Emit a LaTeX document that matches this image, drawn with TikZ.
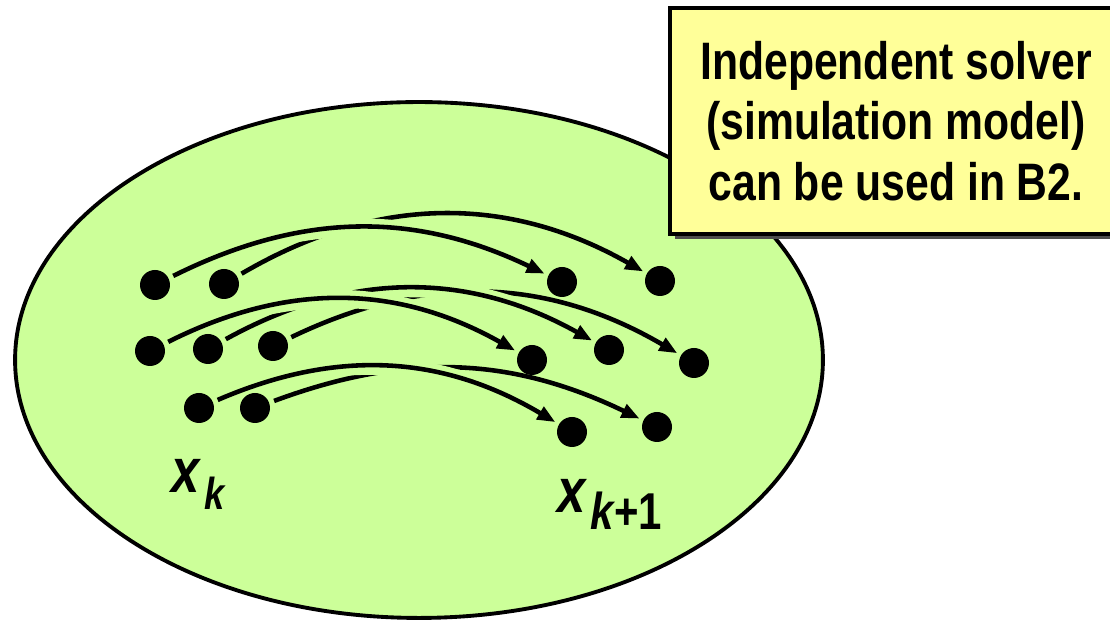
\documentclass[tikz,border=0pt]{standalone}
\usepackage{fontspec}
\newfontfamily\narrowsans[FakeStretch=0.81]{Liberation Sans}
\usetikzlibrary{arrows.meta,shadows}
\definecolor{ellgreen}{HTML}{CCFF99}
\definecolor{noteyellow}{HTML}{FFFF99}
\definecolor{shadowgray}{HTML}{4D4D4D}
\pgfdeclarelayer{back}
\pgfsetlayers{back,main}

\begin{document}
\begin{tikzpicture}[x=0.02cm, y=0.02cm,
  dot/.style={circle, fill=black, inner sep=0pt, minimum size=0.6cm},
  flow/.style={line width=2.6pt, -{Triangle[length=0.36cm, width=0.28cm]},
    shorten <=0.1cm, shorten >=0.08cm,
    preaction={draw=ellgreen, line width=0.36cm, -}}]

\useasboundingbox (0,0) rectangle (1110,621);

% x_k points
\node[dot] (p1) at (155,336) {};
\node[dot] (p2) at (224,337) {};
\node[dot] (p3) at (150,270) {};
\node[dot] (p4) at (208,272) {};
\node[dot] (p5) at (273,275) {};
\node[dot] (p6) at (199,213) {};
\node[dot] (p7) at (255,213) {};

% x_{k+1} points
\node[dot] (q1) at (562,339) {};
\node[dot] (q2) at (660,340) {};
\node[dot] (q3) at (532,261) {};
\node[dot] (q4) at (609,271) {};
\node[dot] (q5) at (694,258) {};
\node[dot] (q6) at (572,189) {};
\node[dot] (q7) at (657,194) {};

\begin{pgfonlayer}{back}
% State set
\draw[line width=2.2pt, fill=ellgreen] (419,261) ellipse [x radius=8.08cm, y radius=5.16cm];

% Row 1 (back curve first)
\draw[flow] (p2) to[bend left=30] (q2);
\draw[flow] (p1) to[bend left=26] (q1);

% Row 2
\draw[flow] (p5) to[bend left=28] (q5);
\draw[flow] (p4) to[bend left=29] (q4);
\draw[flow] (p3) to[bend left=28] (q3);

% Row 3
\draw[flow] (p7) to[bend left=23] (q7);
\draw[flow] (p6) to[bend left=27] (q6);
\end{pgfonlayer}

% Note box (runs off the right edge)
\node[draw, line width=1.8pt, fill=noteyellow, minimum width=9.04cm, minimum height=4.52cm,
  align=center, font=\narrowsans\bfseries\fontsize{30}{34.6}\selectfont,
  drop shadow={shadow xshift=0.1cm, shadow yshift=-0.1cm, fill=shadowgray, opacity=1}]
  (note) at (896,500) {Independent solver\\(simulation model)\\can be used in B2.};

% Labels
\node[anchor=base west, inner sep=0pt, font=\narrowsans\bfseries] (xk) at (171,128)
  {\fontsize{35.7}{40}\selectfont\itshape x\kern3pt\raisebox{-9.6pt}{\fontsize{25.5}{30}\selectfont k}};
\node[anchor=base west, inner sep=0pt, font=\narrowsans\bfseries] (xk1) at (557,108)
  {\fontsize{35.7}{40}\selectfont\itshape x\kern3pt\raisebox{-9.6pt}{\fontsize{29.5}{34}\selectfont k\upshape+1}};

\end{tikzpicture}
\end{document}
